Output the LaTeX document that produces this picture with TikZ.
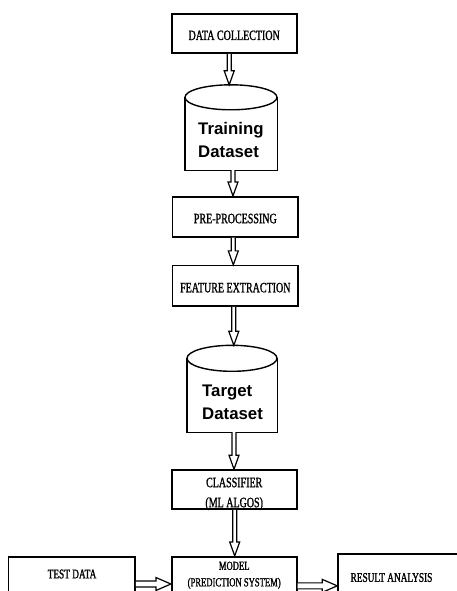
\documentclass[tikz,border=0pt]{standalone}
\usepackage{fontspec}
\newfontfamily\boxfont[FakeStretch=0.70,FakeBold=1.2]{Liberation Serif}
\setsansfont{Liberation Sans}
\usetikzlibrary{calc}
\begin{document}
\begin{tikzpicture}[x=1pt,y=-1pt,
  frame/.style={draw, line width=1.6pt, inner sep=0pt},
  box/.style={frame, font=\boxfont\fontsize{14.3}{16}\selectfont, text height=13pt, text depth=0pt},
  txtA/.style={inner sep=0pt, font=\boxfont\fontsize{14.3}{20}\selectfont, align=center},
  txtB/.style={inner sep=0pt, font=\boxfont\fontsize{12.3}{16.5}\selectfont, align=center},
  txtC/.style={inner sep=0pt, font=\boxfont\fontsize{13.3}{16}\selectfont},
  dblabel/.style={inner sep=0pt, font=\sffamily\bfseries\fontsize{16.8}{22.5}\selectfont, align=left, anchor=west},
  cylbody/.style={inner sep=0pt},
  cyl/.style={line width=1.4pt},
  downarrow/.style={draw, fill=white, line width=1.2pt, line join=miter,
    to path={let \p1=(\tikztostart),\p2=(\tikztotarget) in
      (\x1-2pt,\y1) -- (\x1-2pt,\y2+14pt) -- (\x1-5pt,\y2+14pt) -- (\x1,\y2)
      -- (\x1+5pt,\y2+14pt) -- (\x1+2pt,\y2+14pt) -- (\x1+2pt,\y1)}},
  rightarrow/.style={draw, fill=white, line width=1.2pt, line join=miter,
    to path={let \p1=(\tikztostart),\p2=(\tikztotarget) in
      (\x1,\y1+3pt) -- (\x2-15pt,\y1+3pt) -- (\x2-15pt,\y1+6.5pt) -- (\x2,\y1)
      -- (\x2-15pt,\y1-6.5pt) -- (\x2-15pt,\y1-3pt) -- (\x1,\y1-3pt)}}
]
\useasboundingbox (0,0) rectangle (457,591);
\clip (0,0) rectangle (457,591);
\fill[white] (0,0) rectangle (457,591);

% boxes
\node[box, minimum width=125pt, minimum height=39pt] (dc) at (234.2,33.5) {DATA COLLECTION};
\node[box, minimum width=125.3pt, minimum height=40pt] (pre) at (235.3,216.7) {PRE-PROCESSING};
\node[box, minimum width=125.3pt, minimum height=40.3pt] (feat) at (235.3,285.8) {FEATURE EXTRACTION};
\node[frame, minimum width=125pt, minimum height=39pt] (cls) at (234.2,489.5) {};
\node[txtA, anchor=north] (clst) at (234.2,477.5) {CLASSIFIER\\(ML ALGOS)};
\node[frame, minimum width=125pt, minimum height=53.3pt] (model) at (234.2,583.35) {};
\node[txtB, anchor=north] (modelt) at (234.2,561.5) {MODEL\\(PREDICTION SYSTEM)};
\node[frame, minimum width=126.7pt, minimum height=52.6pt] (test) at (71.65,583) {};
\node[txtC] (testt) at (72,574) {TEST DATA};
\node[frame, minimum width=132pt, minimum height=56pt] (res) at (404,582) {};
\node[txtC] (rest) at (391.5,577.5) {RESULT ANALYSIS};

% training cylinder
\node[cylbody, minimum width=92pt, minimum height=72.5pt] (tr) at (231,133.75) {};
\draw[cyl] (tr.north west) -- (tr.south west) -- (tr.south east) -- (tr.north east);
\draw[cyl] (tr.north) ellipse [x radius=46, y radius=12.5];
\coordinate (trtop) at ($(tr.north)+(0,-12.5)$);
\node[dblabel] (trt) at (198,140) {Training\\Dataset};

% target cylinder
\node[cylbody, minimum width=90pt, minimum height=73.5pt] (tg) at (232,395.25) {};
\draw[cyl] (tg.north west) -- (tg.south west) -- (tg.south east) -- (tg.north east);
\draw[cyl] (tg.north) ellipse [x radius=45, y radius=13];
\coordinate (tgtop) at ($(tg.north)+(0,-13)$);
\node[dblabel] (tgt) at (202,402.5) {Target\\Dataset};

% arrows
\draw[downarrow] ([xshift=-5pt]dc.south) to (trtop);
\draw[downarrow] ([xshift=2pt]tr.south) to (pre.north);
\draw[downarrow] ([xshift=-2pt]pre.south) to (feat.north);
\draw[downarrow] ([xshift=-1.5pt]feat.south) to (tgtop);
\draw[downarrow] ([xshift=2pt]tg.south) to (cls.north);
\draw[downarrow] ([xshift=0.5pt]cls.south) to (model.north);
\draw[rightarrow] ([yshift=-1pt]test.east) to (model.west);
\draw[rightarrow] ([yshift=-2.5pt]model.east) to (res.west);
\end{tikzpicture}
\end{document}
